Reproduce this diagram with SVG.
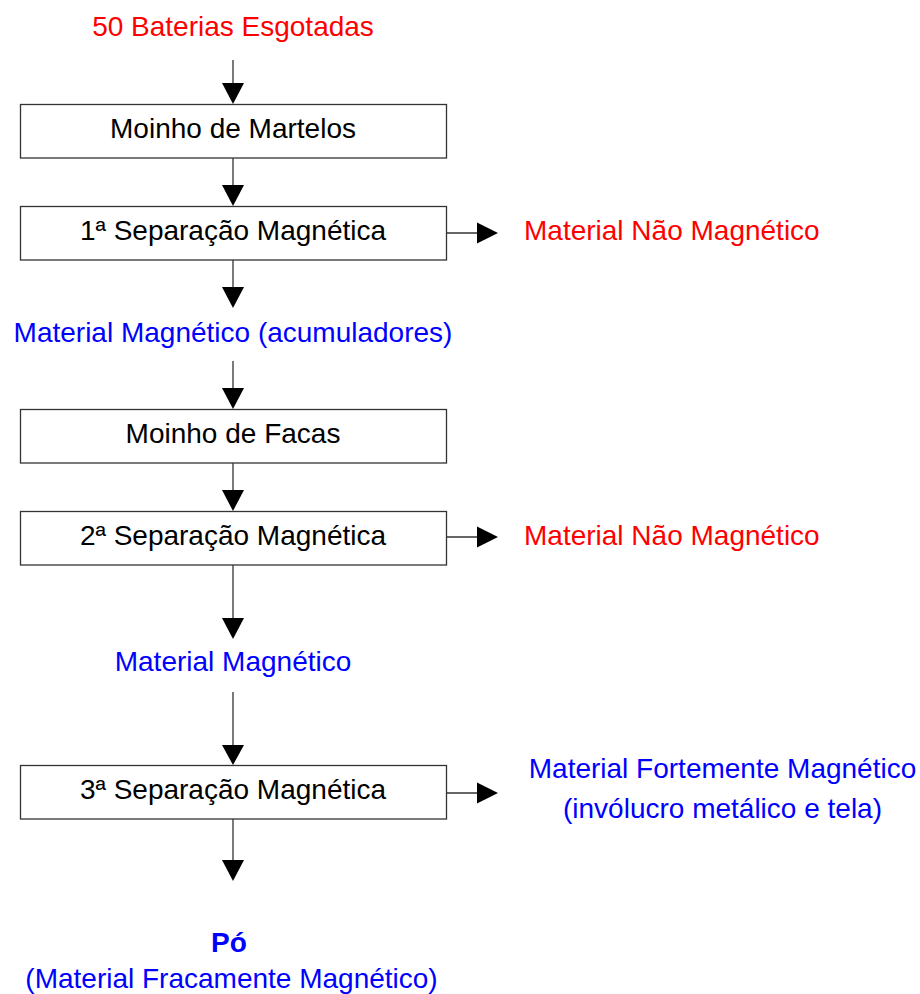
<svg xmlns="http://www.w3.org/2000/svg" width="920" height="994" viewBox="0 0 920 994">
<style>
text{font-family:"Liberation Sans",Arial,sans-serif;font-size:28px}
.c{text-anchor:middle}
.red{fill:#ff0000}
.blue{fill:#0000ff}
.blk{fill:#000}
.box{fill:#fff;stroke:#333;stroke-width:1.3}
.ln{stroke:#333;stroke-width:1.3;fill:none}
.hd{fill:#000}
</style>
<rect width="920" height="994" fill="#fff"/>
<g id="connectors">
<line class="ln" x1="233" y1="60" x2="233" y2="90"/><polygon class="hd" points="222,83 244,83 233,104"/>
<line class="ln" x1="233" y1="158" x2="233" y2="190"/><polygon class="hd" points="222,185 244,185 233,206"/>
<line class="ln" x1="233" y1="260" x2="233" y2="292"/><polygon class="hd" points="222,287 244,287 233,308"/>
<line class="ln" x1="233" y1="361" x2="233" y2="392"/><polygon class="hd" points="222,388 244,388 233,409"/>
<line class="ln" x1="233" y1="463" x2="233" y2="495"/><polygon class="hd" points="222,490 244,490 233,511"/>
<line class="ln" x1="233" y1="565" x2="233" y2="622"/><polygon class="hd" points="222,618 244,618 233,639"/>
<line class="ln" x1="233" y1="692" x2="233" y2="750"/><polygon class="hd" points="222,745 244,745 233,765"/>
<line class="ln" x1="233" y1="819" x2="233" y2="864"/><polygon class="hd" points="222,860 244,860 233,881"/>
<line class="ln" x1="446" y1="233" x2="480" y2="233"/><polygon class="hd" points="477,222.5 477,243.5 498,233"/>
<line class="ln" x1="446" y1="537" x2="480" y2="537"/><polygon class="hd" points="477,526.5 477,547.5 498,537"/>
<line class="ln" x1="446" y1="793" x2="480" y2="793"/><polygon class="hd" points="477,782.5 477,803.5 498,793"/>
</g>
<g id="n_baterias"><text class="c red" x="233" y="36">50 Baterias Esgotadas</text></g>
<g id="n_martelos"><rect class="box" x="20.5" y="104.5" width="426" height="53.5"/><text class="c blk" x="233" y="138">Moinho de Martelos</text></g>
<g id="n_sep1"><rect class="box" x="20.5" y="206.5" width="426" height="53.5"/><text class="c blk" x="233" y="240">1ª Separação Magnética</text></g>
<g id="n_nao1"><text class="red" x="524" y="240">Material Não Magnético</text></g>
<g id="n_mag1"><text class="c blue" x="233" y="342">Material Magnético (acumuladores)</text></g>
<g id="n_facas"><rect class="box" x="20.5" y="409.5" width="426" height="53.5"/><text class="c blk" x="233" y="443">Moinho de Facas</text></g>
<g id="n_sep2"><rect class="box" x="20.5" y="511.5" width="426" height="53.5"/><text class="c blk" x="233" y="545">2ª Separação Magnética</text></g>
<g id="n_nao2"><text class="red" x="524" y="545">Material Não Magnético</text></g>
<g id="n_mag2"><text class="c blue" x="233" y="671">Material Magnético</text></g>
<g id="n_sep3"><rect class="box" x="20.5" y="765.5" width="426" height="53.5"/><text class="c blk" x="233" y="799">3ª Separação Magnética</text></g>
<g id="n_forte"><text class="c blue" x="722.5" y="778">Material Fortemente Magnético</text><text class="c blue" x="722.5" y="818">(invólucro metálico e tela)</text></g>
<g id="n_po"><text class="c blue" x="229" y="952" font-weight="bold">Pó</text><text class="c blue" x="231.5" y="988">(Material Fracamente Magnético)</text></g>
</svg>
